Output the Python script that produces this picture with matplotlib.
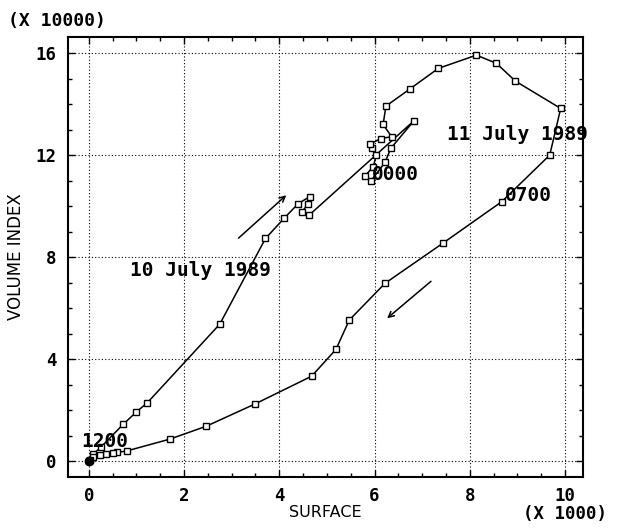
import matplotlib
matplotlib.use('Agg')
import matplotlib.pyplot as plt
from matplotlib.ticker import MultipleLocator

# surface (x 1000) and volume index (x 10000), 10 July 1200 -> 11 July
surface = [0.0, 0.09, 0.25, 0.72, 1.0, 1.23, 2.75, 3.71, 4.10, 4.40, 4.64, 4.61,
           4.48, 4.63, 6.83, 6.34, 6.22, 5.92, 5.80, 5.97, 6.04, 5.95, 5.90, 6.13,
           6.36, 6.18, 6.24, 6.74, 7.34, 8.14, 8.56, 8.96, 9.91, 9.68, 8.67, 7.44,
           6.22, 5.47, 5.19, 4.68, 3.49, 2.47, 1.70, 0.80, 0.60, 0.50, 0.36, 0.23,
           0.09, 0.02]
volume = [0.0, 0.27, 0.54, 1.44, 1.93, 2.29, 5.37, 8.73, 9.52, 10.1, 10.37, 10.1,
          9.78, 9.65, 13.35, 12.26, 11.71, 10.98, 11.18, 11.54, 11.99, 12.29, 12.42, 12.65,
          12.72, 13.2, 13.92, 14.59, 15.4, 15.92, 15.6, 14.9, 13.83, 12.0, 10.17, 8.55,
          6.97, 5.53, 4.38, 3.33, 2.24, 1.37, 0.86, 0.40, 0.34, 0.33, 0.26, 0.24,
          0.15, 0.05]

xticks = [0, 2, 4, 6, 8, 10]
yticks = [0, 4, 8, 12, 16]

mono = 'DejaVu Sans Mono'

fig = plt.figure(figsize=(6.17, 5.29), dpi=100)
ax = fig.add_axes([0.110, 0.098, 0.835, 0.832])

ax.plot(surface, volume, color='black', lw=1.1, marker='s', ms=4.5,
        mfc='white', mec='black', mew=1.0, zorder=3)
ax.plot(surface[0], volume[0], 'o', color='black', ms=6, zorder=4)

ax.set_xlim(-0.44, 10.38)
ax.set_ylim(-0.63, 16.63)
ax.set_xticks(xticks)
ax.set_yticks(yticks)
ax.xaxis.set_minor_locator(MultipleLocator(0.5))
ax.yaxis.set_minor_locator(MultipleLocator(1))
ax.tick_params(which='both', direction='in', top=True, right=True, width=1)
ax.tick_params(which='major', length=5)
ax.tick_params(which='minor', length=3)
ax.tick_params(axis='x', pad=7)
ax.tick_params(axis='y', pad=8)
for lab in ax.get_xticklabels() + ax.get_yticklabels():
    lab.set_fontfamily(mono)
    lab.set_fontweight('bold')
    lab.set_fontsize(12.5)
for s in ax.spines.values():
    s.set_linewidth(1.5)
ax.grid(True, which='major', ls=(0, (1, 2)), lw=0.8, color='black')

ax.set_xlabel('SURFACE', fontsize=11.5, labelpad=0)
ax.set_ylabel('VOLUME INDEX', fontsize=12, labelpad=8)

txt = dict(family=mono, weight='bold', fontsize=14, va='center', ha='left')
ax.text(-0.15, 0.78, '1200', **txt)
ax.text(5.95, 11.25, '0000', **txt)
ax.text(8.74, 10.4, '0700', **txt)
ax.text(7.52, 12.8, '11 July 1989', clip_on=False, **txt)
ax.text(0.86, 7.47, '10 July 1989', **txt)

ax.annotate('', xy=(4.19, 10.5), xytext=(3.10, 8.67),
            arrowprops=dict(arrowstyle='->', color='black', lw=1.1))
ax.annotate('', xy=(6.22, 5.53), xytext=(7.23, 7.12),
            arrowprops=dict(arrowstyle='->', color='black', lw=1.1))

fig.text(8 / 617, 1 - 21 / 529, '(X 10000)', family=mono, weight='bold',
         fontsize=13, va='center', ha='left')
fig.text(565 / 617, 1 - 514 / 529, '(X 1000)', family=mono, weight='bold',
         fontsize=12.5, va='center', ha='center')

fig.savefig('out.png', dpi=100)
